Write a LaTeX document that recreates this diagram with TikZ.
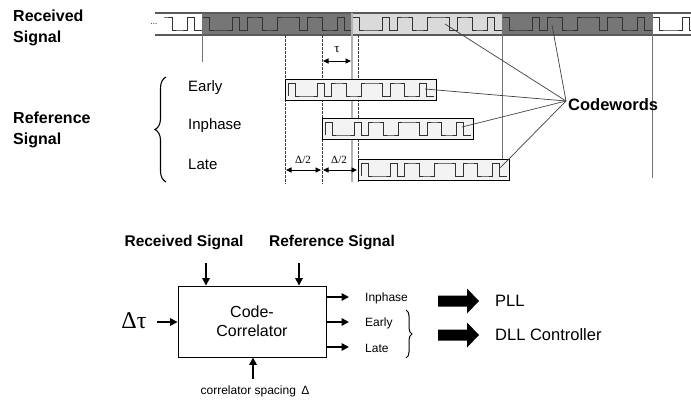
\documentclass[tikz,border=0pt]{standalone}
\usepackage{fontspec}
\setmainfont{Liberation Sans}
\newfontfamily\serifo{Liberation Serif}
\usetikzlibrary{arrows.meta,decorations.pathreplacing}
\definecolor{darkfill}{RGB}{118,118,118}
\definecolor{lightfill}{RGB}{218,218,218}
\definecolor{boxfill}{RGB}{243,243,243}
\definecolor{waveline}{RGB}{50,50,50}
\definecolor{bandline}{RGB}{90,90,90}
\newcommand\chipseq{1,0,0,0,1,0,1,1,0,0,1,1,1,0,1,1,0,0,1,0}
\newcommand\codewave[4]{%
  \draw[waveline, line width=1pt, line join=miter] ({#1},{#4}) \foreach \v [count=\i] in \chipseq {
     -- ({#1+(\i-1)*#2}, {#4+\v*(#3-#4)}) -- ({#1+\i*#2}, {#4+\v*(#3-#4)}) };
}
\tikzset{
  bigbold/.style={font=\fontsize{16}{19}\selectfont\bfseries},
  lbl/.style={font=\fontsize{15}{18}\selectfont, inner sep=0pt},
  small/.style={font=\fontsize{12}{14}\selectfont, inner sep=0pt},
  refbox/.style={draw=black, line width=1.4pt, fill=boxfill},
  dashv/.style={draw=black!75, line width=0.6pt, dash pattern=on 2.5pt off 1.5pt},
  solidv/.style={draw=black!55, line width=0.6pt},
  cwline/.style={draw=black!75, line width=0.7pt},
  arr/.style={line width=1.6pt, -{Triangle[length=7.5pt,width=7.5pt]}},
  darr/.style={line width=0.9pt, {Triangle[length=5.5pt,width=5pt]}-{Triangle[length=5.5pt,width=5pt]}},
}
\begin{document}
\begin{tikzpicture}[x=1pt,y=-1pt]
\useasboundingbox (0,0) rectangle (691,402);
\fill[white] (0,0) rectangle (691,402);

% ---------- top-left labels
\node[anchor=west, align=left, inner sep=0pt, font=\fontsize{16}{21}\selectfont\bfseries] (recl) at (13,27.5) {Received\\Signal};
\node[anchor=west, align=left, inner sep=0pt, font=\fontsize{16}{21}\selectfont\bfseries] (refl) at (13,130) {Reference\\Signal};

% ---------- received signal band
\fill[darkfill] (202,13) rectangle (352,35);
\fill[lightfill] (352,13) rectangle (502,35);
\fill[darkfill] (502,13) rectangle (652,35);
\begin{scope}
  \clip (164,10) rectangle (691,40);
  \foreach \k in {0,...,4} { \codewave{52+150*\k}{7.5}{17}{30} }
\end{scope}
\draw[bandline, line width=1.3pt] (155,13) -- (691,13);
\draw[bandline, line width=1.3pt] (155,35) -- (691,35);
\node[font=\fontsize{8}{8}\selectfont, inner sep=0pt] (dots) at (154,24) {...};

% ---------- vertical guide lines
\draw[solidv] (202,13) -- (202,62);
\draw[dashv] (285,35) -- (285,184);
\draw[dashv] (322,35) -- (322,184);
\draw[draw=black!30, line width=1.6pt] (352,13) -- (352,182);
\draw[dashv] (358,35) -- (358,182);
\draw[solidv] (502,13) -- (502,178);
\draw[solidv] (652,13) -- (652,178);

% ---------- reference codeword boxes
\node[refbox, anchor=north west, minimum width=151, minimum height=21, inner sep=0pt] (early) at (285,79) {};
\node[refbox, anchor=north west, minimum width=151, minimum height=21, inner sep=0pt] (inph) at (322,118) {};
\node[refbox, anchor=north west, minimum width=151, minimum height=21, inner sep=0pt] (late) at (358,159) {};
\codewave{288}{7.3}{83}{96}
\codewave{325}{7.3}{122}{135}
\codewave{361}{7.3}{163}{176}

% ---------- brace and names
\draw[line width=1.1pt, decorate, decoration={brace, amplitude=11pt}] (166,182) -- (166,77);
\node[lbl, anchor=west] (le) at (188,88) {Early};
\node[lbl, anchor=west] (li) at (188,126) {Inphase};
\node[lbl, anchor=west] (ll) at (188,164) {Late};

% ---------- tau and delta/2
\coordinate (t1) at (323,61);
\coordinate (t2) at (351,61);
\draw[darr] (t1) -- (t2);
\node[font=\serifo\fontsize{13}{13}\selectfont, inner sep=0pt] (tau) at (337,50) {τ};
\coordinate (d1) at (286,170);
\coordinate (d2) at (321,170);
\coordinate (d3) at (323,170);
\coordinate (d4) at (357,170);
\draw[darr] (d1) -- (d2);
\draw[darr] (d3) -- (d4);
\node[font=\serifo\fontsize{11}{11}\selectfont, inner sep=0pt] (dh1) at (303,160) {Δ/2};
\node[font=\serifo\fontsize{11}{11}\selectfont, inner sep=0pt] (dh2) at (339,160) {Δ/2};

% ---------- codewords
\node[anchor=west, inner sep=0pt, font=\fontsize{16.5}{19}\selectfont\bfseries] (cw) at (568,105) {Codewords};
\coordinate (hub) at (566,101);
\coordinate (cwR1) at (445,24);
\coordinate (cwR2) at (552,25);
\coordinate (cwE) at (425,89);
\coordinate (cwI) at (462,127);
\coordinate (cwL) at (500,168);
\draw[cwline] (hub) -- (cwR1);
\draw[cwline] (hub) -- (cwR2);
\draw[cwline] (hub) -- (cwE);
\draw[cwline] (hub) -- (cwI);
\draw[cwline] (hub) -- (cwL);

% ---------- bottom block diagram
\node[draw=black, line width=0.9pt, minimum width=148, minimum height=71, inner sep=0pt,
      align=center, font=\fontsize{16}{19}\selectfont] (cc) at (252,321.5) {Code-\\Correlator};
\node[inner sep=0pt, font=\fontsize{15.5}{18}\selectfont\bfseries] (rsl) at (184,243) {Received Signal};
\node[inner sep=0pt, font=\fontsize{15.5}{18}\selectfont\bfseries] (rfl) at (332,243) {Reference Signal};
\coordinate (rsa) at (206,263);
\coordinate (rfa) at (299,263);
\draw[arr] (rsa) -- (rsa |- cc.north);
\draw[arr] (rfa) -- (rfa |- cc.north);

\node[font=\serifo\fontsize{24}{24}\selectfont, inner sep=0pt] (dt) at (134,321) {Δτ};
\coordinate (dta) at (157,322);
\draw[arr] (dta) -- (dta -| cc.west);

\node[small] (csp) at (255,391) {correlator spacing \,Δ};
\coordinate (csa) at (253,379);
\draw[arr] (csa) -- (csa |- cc.south);

\node[small, anchor=west] (oi) at (365,298) {Inphase};
\node[small, anchor=west] (oe) at (365,323) {Early};
\node[small, anchor=west] (ol) at (365,348) {Late};
\coordinate (oia) at (349,297);
\coordinate (oea) at (349,322);
\coordinate (ola) at (349,347);
\draw[arr] (cc.east |- oia) -- (oia);
\draw[arr] (cc.east |- oea) -- (oea);
\draw[arr] (cc.east |- ola) -- (ola);

\draw[line width=1pt, decorate, decoration={brace, amplitude=6pt}] (406,310) -- (406,358);

% block arrows
\fill[black] (438,295.5) -- (467,295.5) -- (467,288.5) -- (479,301) -- (467,313.5) -- (467,306.5) -- (438,306.5) -- cycle;
\fill[black] (438,329.5) -- (467,329.5) -- (467,322.5) -- (479,335) -- (467,347.5) -- (467,340.5) -- (438,340.5) -- cycle;
\node[inner sep=0pt, anchor=west, font=\fontsize{16.5}{19}\selectfont] (pll) at (495,301) {PLL};
\node[inner sep=0pt, anchor=west, font=\fontsize{16.5}{19}\selectfont] (dll) at (495,335) {DLL Controller};
\end{tikzpicture}
\end{document}
